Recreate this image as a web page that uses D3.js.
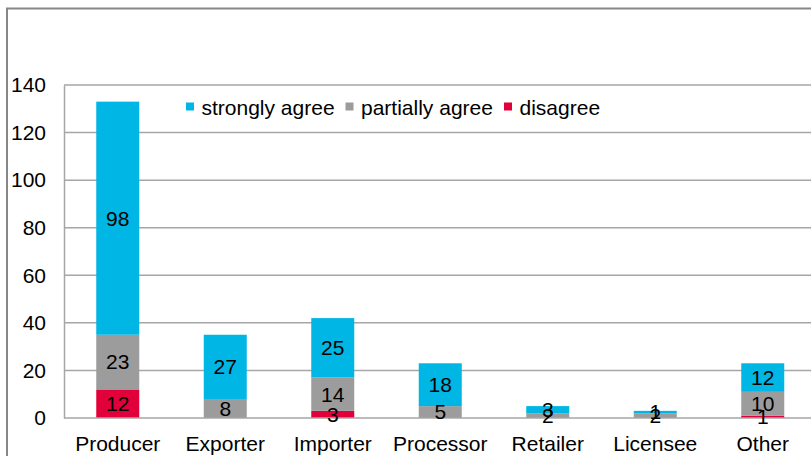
<!DOCTYPE html>
<html>
<head>
<meta charset="utf-8">
<script src="https://cdn.jsdelivr.net/npm/d3@7/dist/d3.min.js"></script>
<style>
  html, body { margin: 0; padding: 0; background: #fff; }
  svg { display: block; font-family: "Liberation Sans", Arial, sans-serif; }
</style>
</head>
<body>
<svg id="chart" width="811" height="456"></svg>
<script>
// Respondent groups and answer counts per group
const categories = ["Producer", "Exporter", "Importer", "Processor", "Retailer", "Licensee", "Other"];
const disagree        = [12, 0, 3, 0, 0, 0, 1];
const partiallyAgree  = [23, 8, 14, 5, 2, 2, 10];
const stronglyAgree   = [98, 27, 25, 18, 3, 1, 12];
const yTicks = [0, 20, 40, 60, 80, 100, 120, 140];

const seriesKeys   = ["disagree", "partially", "strongly"];
const seriesNames  = { strongly: "strongly agree", partially: "partially agree", disagree: "disagree" };
const seriesColors = { strongly: "#00B6E4", partially: "#9C9C9C", disagree: "#E2003B" };
const legendOrder  = ["strongly", "partially", "disagree"];

const rows = categories.map((c, i) => ({
  category: c,
  disagree: disagree[i],
  partially: partiallyAgree[i],
  strongly: stronglyAgree[i]
}));

const FONT = 21;
const svg = d3.select("#chart");
const plot = { left: 64, top: 85, right: 816.5, bottom: 418 };

const x = d3.scaleBand()
  .domain(categories)
  .range([plot.left, plot.right])
  .paddingInner(0.6)
  .paddingOuter(0.3);

const y = d3.scaleLinear().domain([0, 140]).range([plot.bottom, plot.top]);

// Outer chart frame
svg.append("path")
  .attr("d", `M7,460 V8.5 H820`)
  .attr("fill", "none")
  .attr("stroke", "#878787")
  .attr("stroke-width", 2);

// Gridlines
svg.append("g")
  .selectAll("line")
  .data(yTicks.filter(t => t > 0))
  .join("line")
  .attr("x1", plot.left).attr("x2", plot.right + 10)
  .attr("y1", d => y(d)).attr("y2", d => y(d))
  .attr("stroke", "#A6A6A6")
  .attr("stroke-width", 1.5);

// Y axis
const yAxis = svg.append("g")
  .attr("transform", `translate(${plot.left},0)`)
  .call(d3.axisLeft(y).tickValues(yTicks).tickSize(0).tickPadding(18));
yAxis.select(".domain").attr("stroke", "#A6A6A6").attr("stroke-width", 1.5);
yAxis.selectAll("text")
  .attr("font-size", FONT)
  .attr("fill", "#000")
  .attr("font-family", "Liberation Sans, Arial, sans-serif");

// Stacked bars
const stack = d3.stack().keys(seriesKeys)(rows);

const layers = svg.append("g")
  .selectAll("g")
  .data(stack)
  .join("g")
  .attr("fill", d => seriesColors[d.key]);

layers.selectAll("rect")
  .data(d => d)
  .join("rect")
  .attr("x", d => x(d.data.category))
  .attr("width", x.bandwidth())
  .attr("y", d => y(d[1]))
  .attr("height", d => y(d[0]) - y(d[1]));

// X axis baseline
svg.append("line")
  .attr("x1", plot.left).attr("x2", plot.right + 10)
  .attr("y1", plot.bottom).attr("y2", plot.bottom)
  .attr("stroke", "#A6A6A6")
  .attr("stroke-width", 1.5);

// Value labels in each segment
svg.append("g")
  .selectAll("g")
  .data(stack)
  .join("g")
  .selectAll("text")
  .data(d => d.filter(p => p[1] - p[0] > 0))
  .join("text")
  .attr("x", d => x(d.data.category) + x.bandwidth() / 2)
  .attr("y", d => y((d[0] + d[1]) / 2))
  .attr("dy", "0.35em")
  .attr("text-anchor", "middle")
  .attr("font-size", FONT)
  .attr("fill", "#000")
  .text(d => d[1] - d[0]);

// Category labels
svg.append("g")
  .selectAll("text")
  .data(categories)
  .join("text")
  .attr("x", d => x(d) + x.bandwidth() / 2)
  .attr("y", 451)
  .attr("text-anchor", "middle")
  .attr("font-size", FONT)
  .attr("fill", "#000")
  .text(d => d);

// Legend
const legendPos = { strongly: 186, partially: 345.5, disagree: 504 };
const legend = svg.append("g");
legendOrder.forEach(k => {
  legend.append("rect")
    .attr("x", legendPos[k]).attr("y", 102.5)
    .attr("width", 8).attr("height", 8)
    .attr("fill", seriesColors[k]);
  legend.append("text")
    .attr("x", legendPos[k] + 15.5).attr("y", 115)
    .attr("font-size", FONT)
    .attr("fill", "#000")
    .text(seriesNames[k]);
});
</script>
</body>
</html>
